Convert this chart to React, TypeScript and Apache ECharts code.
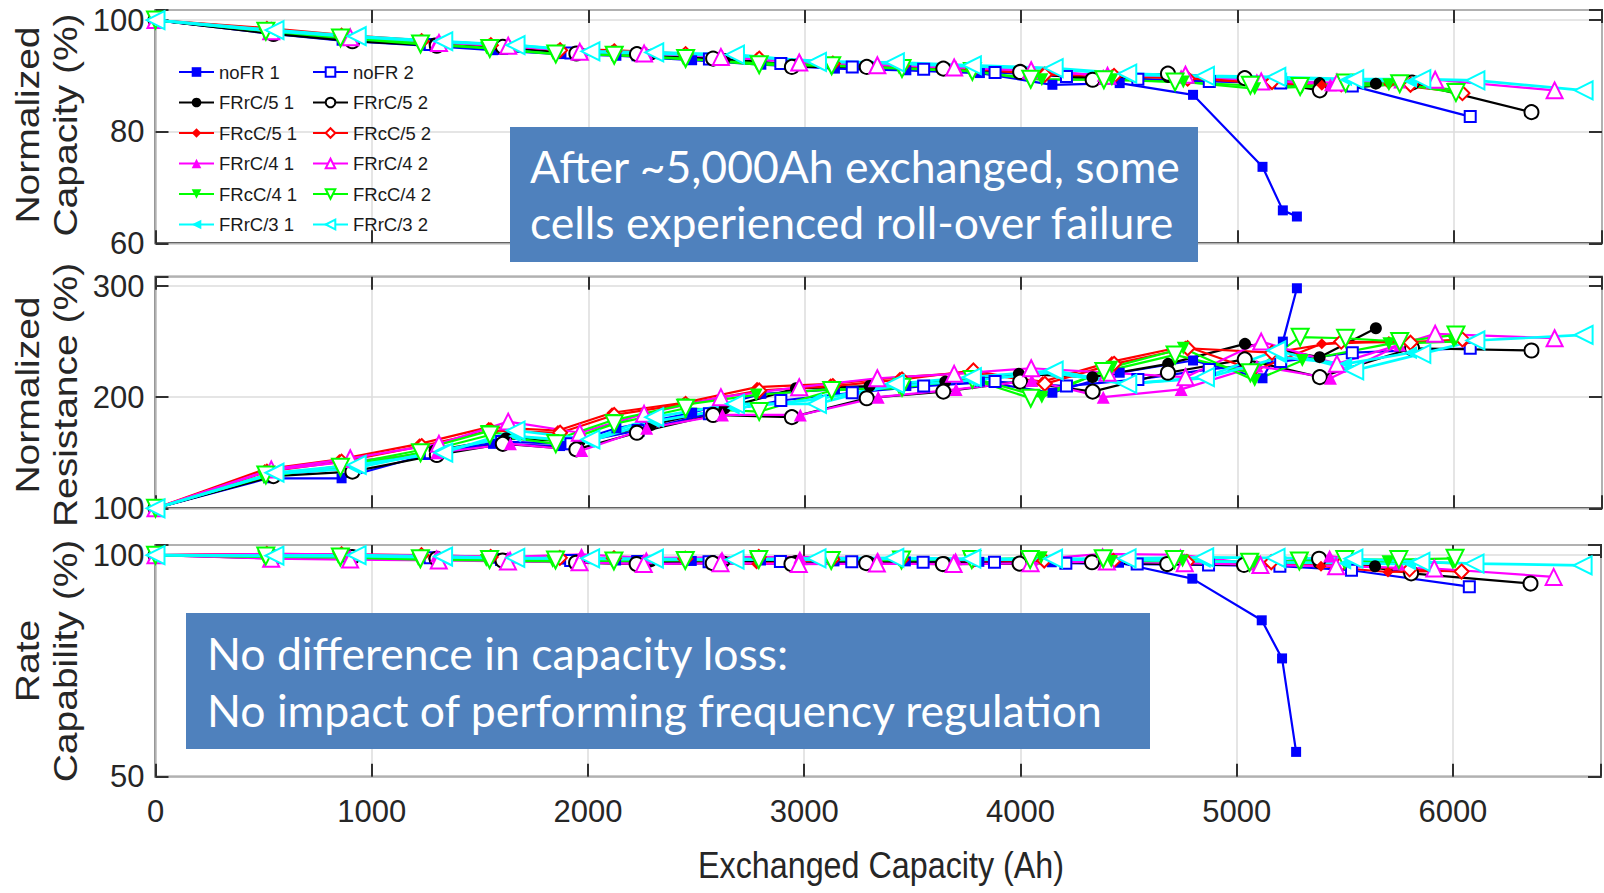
import React, { useEffect, useRef } from "react";
import * as echarts from "echarts";

// ---- Exchanged capacity (Ah) at each check-up, and the three measured quantities ----
const X_TICKS = [0, 1000, 2000, 3000, 4000, 5000, 6000];

const noFR1Ah = [0, 520, 860, 1250, 1560, 1870, 2130, 2480, 2800, 3140, 3470, 3810, 4145, 4456, 4795, 5116, 5210, 5275];
const noFR1Cap = [100, 97.6, 96.3, 95.4, 94.6, 93.9, 93.6, 92.8, 92.0, 91.3, 91.0, 90.5, 88.4, 88.7, 86.6, 73.7, 65.9, 64.8];
const noFR1Res = [100, 127, 127, 148, 158, 156, 172, 186, 203, 207, 210, 214, 204, 222, 233, 217, 250, 298];
const noFR1Rate = [100, 100, 100, 99.5, 99.2, 99, 98.8, 98.7, 98.8, 98.6, 98.6, 98.5, 98.4, 98.3, 94.7, 85.3, 76.7, 55.6];

const noFR2Ah = [0, 530, 880, 1270, 1600, 1920, 2230, 2560, 2890, 3220, 3550, 3880, 4210, 4540, 4870, 5200, 5531, 6076];
const noFR2Cap = [100, 97.8, 96.6, 95.6, 94.9, 94.1, 93.8, 93.0, 92.2, 91.6, 91.2, 90.6, 89.9, 89.4, 89.0, 88.7, 88.2, 82.7];
const noFR2Res = [100, 130, 136, 150, 160, 158, 170, 185, 197, 204, 210, 214, 210, 216, 225, 232, 240, 244];
const noFR2Rate = [100, 99.8, 99.8, 99.4, 99.0, 98.8, 98.6, 98.5, 98.6, 98.5, 98.4, 98.4, 98.2, 98.0, 97.8, 97.5, 96.6, 92.9];

const frrC51Ah = [0, 540, 900, 1290, 1620, 1960, 2290, 2630, 2960, 3300, 3650, 3990, 4330, 4680, 5035, 5380, 5640];
const frrC51Cap = [100, 97.8, 96.6, 95.8, 95.1, 94.2, 93.8, 93.0, 92.0, 91.6, 91.3, 90.9, 89.6, 89.8, 89.4, 88.7, 88.6];
const frrC51Res = [100, 131, 138, 152, 163, 160, 175, 190, 208, 210, 214, 221, 218, 230, 248, 236, 262];
const frrC51Rate = [100, 100, 99.6, 99.3, 99.0, 98.8, 98.6, 98.5, 98.7, 98.5, 98.4, 98.4, 98.5, 98.3, 98.0, 98.2, 97.5];

const frrC52Ah = [0, 545, 910, 1300, 1605, 1945, 2225, 2577, 2941, 3287, 3641, 3996, 4331, 4679, 5034, 5381, 5807, 6359];
const frrC52Cap = [100, 97.5, 96.2, 95.4, 95.2, 94.0, 93.9, 93.1, 91.6, 91.6, 91.3, 90.7, 89.3, 90.4, 89.6, 87.4, 88.8, 83.5];
const frrC52Res = [100, 129, 133, 148, 158, 153, 168, 184, 182, 199, 205, 214, 205, 222, 234, 218, 244, 242];
const frrC52Rate = [100, 99.3, 99.6, 99.2, 98.8, 98.3, 98.0, 98.2, 98.0, 98.2, 98.0, 98.1, 98.4, 98.0, 97.8, 99.2, 95.9, 93.6];

const frcC51Ah = [0, 505, 850, 1220, 1540, 1860, 2110, 2440, 2780, 3120, 3440, 3770, 4100, 4420, 4760, 5080, 5390, 5700, 6050];
const frcC51Cap = [100, 98.6, 97.4, 96.4, 95.7, 94.8, 94.6, 94.0, 93.3, 92.4, 91.9, 91.3, 90.5, 90.2, 89.6, 88.8, 88.3, 88.5, 87.0];
const frcC51Res = [100, 135, 144, 158, 173, 170, 186, 195, 209, 212, 218, 222, 214, 232, 246, 224, 248, 250, 250];
const frcC51Rate = [100, 100.2, 100.1, 99.8, 99.5, 99.3, 99.2, 99.1, 98.0, 99.0, 99.0, 98.9, 98.8, 98.8, 98.6, 98.4, 97.5, 96.2, 96.5];

const frcC52Ah = [0, 515, 860, 1230, 1550, 1870, 2120, 2450, 2790, 3130, 3450, 3780, 4110, 4430, 4770, 5160, 5480, 5800, 6040];
const frcC52Cap = [100, 98.4, 97.2, 96.2, 95.5, 94.6, 94.4, 93.9, 93.1, 92.2, 91.8, 91.2, 90.2, 90.0, 89.5, 88.9, 88.5, 88.4, 86.9];
const frcC52Res = [100, 133, 142, 156, 170, 168, 184, 194, 206, 210, 216, 224, 212, 230, 244, 240, 250, 249, 252];
const frcC52Rate = [100, 100.3, 100.2, 100, 99.6, 99.4, 99.3, 99.2, 99.6, 99.1, 99.0, 98.9, 98.8, 98.7, 98.5, 98.4, 97.8, 96.8, 96.3];

const frrC41Ah = [0, 525, 890, 1300, 1640, 1970, 2270, 2620, 2980, 3340, 3700, 4050, 4380, 4740, 5090, 5430, 5750];
const frrC41Cap = [100, 98.2, 97.0, 96.0, 95.3, 94.4, 94.1, 93.5, 92.6, 91.9, 91.6, 90.9, 90.1, 90.0, 89.3, 88.4, 88.9];
const frrC41Res = [100, 134, 142, 150, 158, 152, 172, 184, 184, 200, 207, 215, 200, 207, 228, 217, 247];
const frrC41Rate = [100, 100.3, 100.2, 99.9, 99.6, 100.2, 99.4, 99.5, 99.6, 99.3, 99.2, 99.0, 100.3, 100.1, 98.0, 99.8, 98.0];

const frrC42Ah = [0, 535, 900, 1310, 1630, 1961, 2258, 2613, 2975, 3336, 3691, 4047, 4400, 4760, 5110, 5460, 5914, 6466];
const frrC42Cap = [100, 98.0, 96.9, 95.9, 95.4, 94.3, 94.0, 93.4, 92.4, 91.9, 91.5, 91.0, 90.0, 90.2, 89.0, 88.8, 89.3, 87.4];
const frrC42Res = [100, 135, 145, 158, 178, 168, 185, 200, 209, 217, 221, 226, 222, 218, 250, 230, 257, 253];
const frrC42Rate = [100, 99.2, 99.0, 98.8, 98.6, 98.4, 98.0, 98.2, 98.0, 98.1, 98.0, 98.2, 98.6, 98.2, 97.8, 97.5, 97.0, 95.1];

const frcC41Ah = [0, 500, 845, 1215, 1530, 1837, 2109, 2439, 2776, 3114, 3436, 3764, 4096, 4420, 4750, 5080, 5300, 5700, 6000];
const frcC41Cap = [100, 98.2, 97.0, 95.9, 95.0, 94.0, 93.8, 93.0, 92.3, 91.9, 91.4, 90.9, 89.3, 89.3, 88.9, 87.7, 88.0, 88.4, 87.6];
const frcC41Res = [100, 128, 138, 152, 169, 161, 179, 193, 202, 207, 208, 218, 200, 227, 244, 215, 233, 248, 250];
const frcC41Rate = [100, 99.6, 99.5, 99.0, 98.8, 98.6, 98.8, 99.0, 99.2, 99.0, 98.9, 99.0, 99.4, 98.6, 98.7, 98.4, 98.3, 98.5, 98.2];

const frcC42Ah = [0, 510, 855, 1225, 1545, 1850, 2120, 2450, 2790, 3125, 3450, 3775, 4045, 4383, 4712, 5060, 5290, 5500, 5750, 6010];
const frcC42Cap = [100, 98.0, 96.8, 95.7, 94.9, 93.9, 93.7, 93.1, 92.0, 91.8, 91.3, 90.8, 89.4, 89.3, 88.9, 88.3, 88.1, 88.7, 88.6, 87.0];
const frcC42Res = [100, 130, 137, 150, 166, 158, 176, 190, 187, 206, 209, 216, 199, 223, 238, 222, 254, 253, 250, 256];
const frcC42Rate = [100, 99.8, 99.6, 99.2, 99.0, 98.9, 98.7, 98.8, 99.0, 98.8, 98.9, 99.0, 99.0, 99.2, 99.0, 98.4, 98.7, 99.0, 99.0, 99.3];

const frrC31Ah = [0, 540, 920, 1320, 1660, 2000, 2300, 2670, 3050, 3410, 3770, 4140, 4480, 4850, 5200, 5500, 5800];
const frrC31Cap = [100, 98.0, 97.0, 96.1, 95.5, 94.3, 94.0, 93.6, 92.7, 92.2, 91.7, 91.3, 90.2, 89.9, 89.5, 89.3, 89.0];
const frrC31Res = [100, 131, 136, 152, 165, 160, 178, 190, 198, 210, 215, 222, 212, 217, 236, 230, 240];
const frrC31Rate = [100, 99.8, 99.8, 99.5, 99.3, 99.2, 99.0, 99.1, 99.0, 99.2, 99.0, 99.0, 99.0, 98.6, 98.4, 98.2, 98.0];

const frrC32Ah = [0, 550, 930, 1330, 1664, 2010, 2305, 2678, 3057, 3417, 3773, 4151, 4491, 4850, 5180, 5540, 5850, 6100, 6600];
const frrC32Cap = [100, 98.2, 97.1, 96.2, 95.5, 94.4, 94.2, 93.8, 92.5, 92.4, 91.9, 91.4, 90.4, 90.0, 89.8, 89.4, 89.4, 89.2, 87.4];
const frrC32Res = [100, 132, 139, 150, 170, 162, 182, 194, 194, 212, 218, 224, 212, 218, 242, 224, 239, 251, 256];
const frrC32Rate = [100, 99.9, 100.0, 99.7, 99.4, 99.3, 99.2, 99.0, 99.3, 99.4, 99.2, 99.2, 99.3, 99.5, 99.4, 99.2, 98.5, 98.1, 97.7];

type Cell = { name: string; ah: number[]; cap: number[]; res: number[]; rate: number[] };

const CELLS: Cell[] = [
  { name: "noFR 1", ah: noFR1Ah, cap: noFR1Cap, res: noFR1Res, rate: noFR1Rate },
  { name: "noFR 2", ah: noFR2Ah, cap: noFR2Cap, res: noFR2Res, rate: noFR2Rate },
  { name: "FRrC/5 1", ah: frrC51Ah, cap: frrC51Cap, res: frrC51Res, rate: frrC51Rate },
  { name: "FRrC/5 2", ah: frrC52Ah, cap: frrC52Cap, res: frrC52Res, rate: frrC52Rate },
  { name: "FRcC/5 1", ah: frcC51Ah, cap: frcC51Cap, res: frcC51Res, rate: frcC51Rate },
  { name: "FRcC/5 2", ah: frcC52Ah, cap: frcC52Cap, res: frcC52Res, rate: frcC52Rate },
  { name: "FRrC/4 1", ah: frrC41Ah, cap: frrC41Cap, res: frrC41Res, rate: frrC41Rate },
  { name: "FRrC/4 2", ah: frrC42Ah, cap: frrC42Cap, res: frrC42Res, rate: frrC42Rate },
  { name: "FRcC/4 1", ah: frcC41Ah, cap: frcC41Cap, res: frcC41Res, rate: frcC41Rate },
  { name: "FRcC/4 2", ah: frcC42Ah, cap: frcC42Cap, res: frcC42Res, rate: frcC42Rate },
  { name: "FRrC/3 1", ah: frrC31Ah, cap: frrC31Cap, res: frrC31Res, rate: frrC31Rate },
  { name: "FRrC/3 2", ah: frrC32Ah, cap: frrC32Cap, res: frrC32Res, rate: frrC32Rate },
];

// Marker and line appearance of each cell
const STYLE: Record<string, { color: string; symbol: string; size: number; rotate: number; width: number }> = {
  "noFR 1": { color: "#0000ff", symbol: "rect", size: 10, rotate: 0, width: 2.2 },
  "noFR 2": { color: "#0000ff", symbol: "emptyRect", size: 11, rotate: 0, width: 2.2 },
  "FRrC/5 1": { color: "#000000", symbol: "circle", size: 12, rotate: 0, width: 2.2 },
  "FRrC/5 2": { color: "#000000", symbol: "emptyCircle", size: 14, rotate: 0, width: 2.2 },
  "FRcC/5 1": { color: "#ff0000", symbol: "diamond", size: 11, rotate: 0, width: 2.2 },
  "FRcC/5 2": { color: "#ff0000", symbol: "emptyDiamond", size: 14, rotate: 0, width: 2.2 },
  "FRrC/4 1": { color: "#ff00ff", symbol: "triangle", size: 13, rotate: 0, width: 2.2 },
  "FRrC/4 2": { color: "#ff00ff", symbol: "emptyTriangle", size: 16, rotate: 0, width: 2.2 },
  "FRcC/4 1": { color: "#00ff00", symbol: "triangle", size: 13, rotate: 180, width: 2.2 },
  "FRcC/4 2": { color: "#00ff00", symbol: "emptyTriangle", size: 17, rotate: 180, width: 2.2 },
  "FRrC/3 1": { color: "#00ffff", symbol: "triangle", size: 13, rotate: 90, width: 2.7 },
  "FRrC/3 2": { color: "#00ffff", symbol: "emptyTriangle", size: 18, rotate: 90, width: 2.7 },
};

const LEGEND_COL1 = ["noFR 1", "FRrC/5 1", "FRcC/5 1", "FRrC/4 1", "FRcC/4 1", "FRrC/3 1"];
const LEGEND_COL2 = ["noFR 2", "FRrC/5 2", "FRcC/5 2", "FRrC/4 2", "FRcC/4 2", "FRrC/3 2"];

type PanelKey = "cap" | "res" | "rate";
const PANELS: { key: PanelKey; min: number; max: number; interval: number; top: number; height: number }[] = [
  { key: "cap", min: 60, max: 101.8, interval: 20, top: 10, height: 233.3 },
  { key: "res", min: 100, max: 308.4, interval: 100, top: 276.7, height: 231.6 },
  { key: "rate", min: 50, max: 102.3, interval: 50, top: 545, height: 231.7 },
];

const X_MIN = 0;
const X_MAX = 6685;
const GRID_LEFT = 155.5;
const GRID_WIDTH = 1446.5;

const NUM_FONT = "'Liberation Sans', Arial, sans-serif";
const TITLE_FONT = "'Liberation Sans', Arial, sans-serif";
const AXIS_INK = "#262626";
const FRAME = "#303030";

function tickStyle() {
  return { show: true, inside: true, length: 13, lineStyle: { color: FRAME, width: 2 } };
}

function buildOption() {
  const grid = PANELS.map((p) => ({
    left: GRID_LEFT,
    width: GRID_WIDTH,
    top: p.top,
    height: p.height,
    show: true,
    borderColor: FRAME,
    borderWidth: 2,
    backgroundColor: "transparent",
  }));

  const xAxis: any[] = [];
  const yAxis: any[] = [];
  PANELS.forEach((p, i) => {
    const isBottom = i === PANELS.length - 1;
    xAxis.push({
      type: "value",
      gridIndex: i,
      position: "bottom",
      min: X_MIN,
      max: X_MAX,
      interval: 1000,
      axisLine: { show: false, onZero: false },
      axisTick: tickStyle(),
      splitLine: { show: true, lineStyle: { color: "#dcdcdc", width: 1.5 } },
      axisLabel: {
        show: isBottom,
        margin: 19,
        fontFamily: NUM_FONT,
        fontSize: 31,
        color: AXIS_INK,
        formatter: (v: number) => (X_TICKS.includes(v) ? String(v) : ""),
      },
    });
    yAxis.push({
      type: "value",
      gridIndex: i,
      position: "left",
      min: p.min,
      max: p.max,
      interval: p.interval,
      axisLine: { show: false, onZero: false },
      axisTick: tickStyle(),
      splitLine: { show: true, lineStyle: { color: "#dcdcdc", width: 1.5 } },
      axisLabel: {
        margin: 11,
        fontFamily: NUM_FONT,
        fontSize: 31,
        color: AXIS_INK,
        formatter: (v: number) => (v % p.interval === 0 ? String(v) : ""),
      },
    });
  });
  // mirrored ticks on the top and right edges of every panel
  PANELS.forEach((p, i) => {
    xAxis.push({
      type: "value",
      gridIndex: i,
      position: "top",
      min: X_MIN,
      max: X_MAX,
      interval: 1000,
      axisLine: { show: false, onZero: false },
      axisTick: tickStyle(),
      splitLine: { show: false },
      axisLabel: { show: false },
    });
    yAxis.push({
      type: "value",
      gridIndex: i,
      position: "right",
      min: p.min,
      max: p.max,
      interval: p.interval,
      axisLine: { show: false, onZero: false },
      axisTick: tickStyle(),
      splitLine: { show: false },
      axisLabel: { show: false },
    });
  });

  const series: any[] = [];
  PANELS.forEach((p, i) => {
    CELLS.forEach((c) => {
      const s = STYLE[c.name];
      const hollow = s.symbol.startsWith("empty");
      series.push({
        type: "line",
        name: c.name,
        xAxisIndex: i,
        yAxisIndex: i,
        data: c.ah.map((x, k) => [x, c[p.key][k]]),
        symbol: s.symbol,
        symbolSize: s.size,
        symbolRotate: s.rotate,
        showAllSymbol: true,
        clip: false,
        lineStyle: { color: s.color, width: s.width },
        itemStyle: hollow
          ? { color: s.color, borderColor: s.color, borderWidth: 2.2 }
          : { color: s.color, borderColor: s.color, borderWidth: 0 },
        emphasis: { disabled: true },
      });
    });
  });

  const legendBase = {
    orient: "vertical",
    top: 62.5,
    padding: 0,
    itemWidth: 35,
    itemHeight: 12,
    itemGap: 11.5,
    selectedMode: false,
    textStyle: { fontFamily: NUM_FONT, fontSize: 18.5, color: "#1a1a1a" },
  };

  const blue = "#4f81bd";
  const noteFont = "Lato, 'Open Sans', sans-serif";
  const noteSize = 44.5;
  const note = (text: string, x: number, y: number) => ({
    type: "text",
    z: 101,
    x,
    y,
    style: { text, fill: "#ffffff", font: `${noteSize}px ${noteFont}`, textAlign: "left", textVerticalAlign: "middle" },
  });

  const graphic: any[] = [
    // axis titles
    {
      type: "text", x: 881, y: 865, scaleY: 1.155, z: 50,
      style: { text: "Exchanged Capacity (Ah)", fill: AXIS_INK, font: `32.3px ${TITLE_FONT}`, textAlign: "center", textVerticalAlign: "middle" },
    },
    ...[
      { lines: ["Normalized", "Capacity (%)"], cy: 125 },
      { lines: ["Normalized", "Resistance (%)"], cy: 395 },
      { lines: ["Rate", "Capability (%)"], cy: 661 },
    ].flatMap((t) =>
      t.lines.map((line, j) => ({
        type: "text",
        x: j === 0 ? 27.7 : 66.5,
        y: t.cy,
        rotation: Math.PI / 2,
        scaleX: 1.2,
        z: 50,
        style: { text: line, fill: AXIS_INK, font: `32.5px ${TITLE_FONT}`, textAlign: "center", textVerticalAlign: "middle" },
      }))
    ),
    // call-out boxes
    { type: "rect", z: 100, shape: { x: 510, y: 127, width: 688, height: 135 }, style: { fill: blue } },
    note("After ~5,000Ah exchanged, some", 530, 165.3),
    note("cells experienced roll-over failure", 530, 221.5),
    { type: "rect", z: 100, shape: { x: 186, y: 613, width: 964, height: 136 }, style: { fill: blue } },
    note("No difference in capacity loss:", 207, 652),
    note("No impact of performing frequency regulation", 207, 709.5),
  ];

  return {
    animation: false,
    backgroundColor: "#ffffff",
    grid,
    xAxis,
    yAxis,
    legend: [
      { ...legendBase, left: 178, data: LEGEND_COL1 },
      { ...legendBase, left: 312, data: LEGEND_COL2 },
    ],
    series,
    graphic,
  };
}

export default function App() {
  const ref = useRef<HTMLDivElement>(null);
  useEffect(() => {
    if (!ref.current) return;
    const chart = echarts.init(ref.current, undefined, { renderer: "svg" });
    chart.setOption(buildOption() as any);
    return () => chart.dispose();
  }, []);
  return (
    <div
      ref={ref}
      style={{ position: "fixed", left: 0, top: 0, width: 1604, height: 893, background: "#ffffff" }}
    />
  );
}
